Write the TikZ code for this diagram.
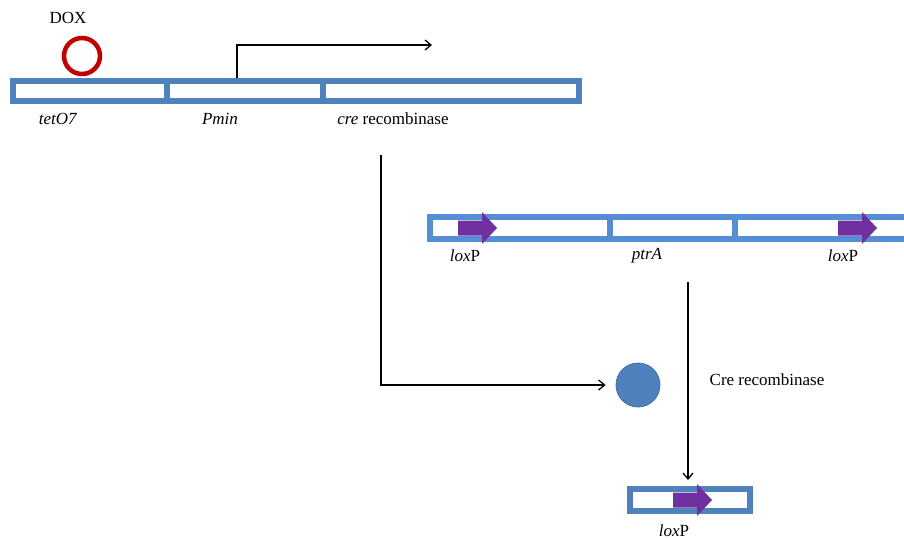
\documentclass[tikz,border=0pt]{standalone}
\usepackage{fontspec}
\setmainfont{Liberation Serif}
\usetikzlibrary{arrows.meta}
\definecolor{barblue}{HTML}{4F81BD}
\definecolor{barlight}{HTML}{558ED5}
\definecolor{dotblue}{HTML}{4F81BD}
\definecolor{dotline}{HTML}{41719C}
\definecolor{loxpurple}{HTML}{7030A0}
\definecolor{doxred}{HTML}{C00000}
\tikzset{
  seg/.style={draw=barblue, line width=6pt, fill=white, rectangle, inner sep=0pt, outer sep=0pt, anchor=north west},
  seglight/.style={seg, draw=barlight},
  lbl/.style={font=\fontsize{17}{19}\selectfont, inner sep=0pt},
  conn/.style={line width=1.3pt, -{Straight Barb[length=6pt,width=10pt]}},
  loxarr/.pic={\fill[loxpurple] (0,-7.5) -- (24,-7.5) -- (24,-16) -- (39,0) -- (24,16) -- (24,7.5) -- (0,7.5) -- cycle;}
}
\begin{document}
\begin{tikzpicture}[x=1pt,y=-1pt]
\useasboundingbox (0,0) rectangle (904,539);
% top construct
\node[seg, minimum width=154.5pt, minimum height=20pt] (tet) at (12.5,81) {};
\node[seg, minimum width=156pt, minimum height=20pt] (pmin) at (167,81) {};
\node[seg, minimum width=255.5pt, minimum height=20pt] (cre) at (323,81) {};
\node[circle, draw=doxred, line width=4.5pt, minimum size=36pt, inner sep=0pt] (dox) at (82,56) {};
\node[lbl] (doxl) at (68,18) {DOX};
\node[lbl] (tetl) at (58,119) {\textit{tetO7}};
\node[lbl] (pminl) at (220,119) {\textit{Pmin}};
\node[lbl] (crel) at (393,119) {\textit{cre} recombinase};
\coordinate (tss) at (237,78);
\coordinate (tssend) at (432,45);
\draw[conn] (tss) |- (tssend);
% cre to protein
\coordinate (crestart) at (381,155);
\node[circle, fill=dotblue, draw=dotline, line width=0.8pt, minimum size=44pt, inner sep=0pt] (prot) at (638,385) {};
\draw[conn] (crestart) |- ([xshift=-10pt]prot.west);
% second construct
\node[seglight, minimum width=180pt, minimum height=22pt] (lox1) at (430,217) {};
\node[seglight, minimum width=125pt, minimum height=22pt] (ptr) at (610,217) {};
\node[seglight, minimum width=190pt, minimum height=22pt] (lox2) at (735,217) {};
\pic at (458,228) {loxarr};
\pic at (838,228) {loxarr};
\node[lbl] (lox1l) at (465,256) {\textit{lox}P};
\node[lbl] (ptrl) at (647,256) {\textit{ptrA}};
\node[lbl] (lox2l) at (843,256) {\textit{lox}P};
% recombination
\coordinate (recstart) at (688,282);
\node[seg, minimum width=120pt, minimum height=22pt] (res) at (629.5,488.5) {};
\draw[conn] (recstart) -- (688,480);
\node[lbl] (recl) at (767,380) {Cre recombinase};
\pic at (673,500) {loxarr};
\node[lbl] (lox3l) at (674,531) {\textit{lox}P};
\end{tikzpicture}
\end{document}
